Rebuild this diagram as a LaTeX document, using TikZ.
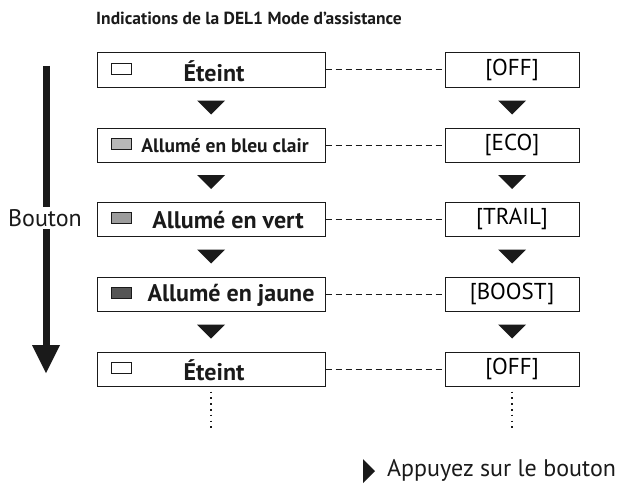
\documentclass[tikz,border=0pt]{standalone}
\usepackage{fontspec}
\setmainfont{PT Sans}
\usetikzlibrary{positioning}

\definecolor{encre}{HTML}{1A1A1A}
\definecolor{bleuclair}{HTML}{B8B8B8}
\definecolor{vert}{HTML}{9C9C9C}
\definecolor{jaune}{HTML}{555555}

\tikzset{
  etat/.style={draw=encre, line width=1pt, minimum width=228, minimum height=34, inner sep=0pt},
  mode/.style={draw=encre, line width=1pt, minimum width=134, minimum height=34, inner sep=0pt,
    font=\fontsize{23}{25}\selectfont},
  voyant/.style={draw=encre, line width=0.9pt, minimum width=20, minimum height=11, inner sep=0pt},
  libelle/.style={font=\bfseries\fontsize{24}{26}\selectfont, text=encre, inner sep=0pt},
  lien/.style={draw=encre, line width=1pt, dash pattern=on 6pt off 4pt},
  suite/.style={draw=encre, line width=1.6pt, dash pattern=on 1.6pt off 4.2pt},
  pointe/.style={fill=encre}
}

\begin{document}
\begin{tikzpicture}[x=1pt,y=-1pt]
\useasboundingbox (0,0) rectangle (621,487);

% titre
\node[font=\bfseries\fontsize{17.5}{19}\selectfont, text=encre] (titre) at (249,18) {Indications de la DEL1 Mode d'assistance};

% colonne DEL
\node[etat] (e1) at (211,70) {};
\node[etat] (e2) at (211,145) {};
\node[etat] (e3) at (211,219) {};
\node[etat] (e4) at (211,294) {};
\node[etat] (e5) at (211,369) {};

\node[voyant, fill=white] (v1) at (121,69) {};
\node[voyant, fill=bleuclair] (v2) at (121,144) {};
\node[voyant, fill=vert] (v3) at (121,218) {};
\node[voyant, fill=jaune] (v4) at (121,293) {};
\node[voyant, fill=white] (v5) at (121,368) {};

\node[libelle] (l1) at (214,71) {Éteint};
\node[libelle, font=\bfseries\fontsize{19.5}{21}\selectfont] (l2) at (225,146) {Allumé en bleu clair};
\node[libelle] (l3) at (228,220) {Allumé en vert};
\node[libelle] (l4) at (231,295) {Allumé en jaune};
\node[libelle] (l5) at (214,370) {Éteint};

% colonne mode
\node[mode] (m1) at (512,70) {[OFF]};
\node[mode] (m2) at (512,145) {[ECO]};
\node[mode] (m3) at (512,219) {[TRAIL]};
\node[mode] (m4) at (512,294) {[BOOST]};
\node[mode] (m5) at (512,369) {[OFF]};

\foreach \i in {1,...,5}
  \draw[lien] (e\i.east) -- (m\i.west);

% triangles entre les cases
\foreach \a/\b in {1/2,2/3,3/4,4/5}{
  \path (e\a.south) -- (e\b.north) coordinate[midway] (te\a);
  \path (m\a.south) -- (m\b.north) coordinate[midway] (tm\a);
  \fill[pointe] ([xshift=-14pt,yshift=7pt]te\a) -- ([xshift=14pt,yshift=7pt]te\a) -- ([yshift=-7pt]te\a) -- cycle;
  \fill[pointe] ([xshift=-14pt,yshift=7pt]tm\a) -- ([xshift=14pt,yshift=7pt]tm\a) -- ([yshift=-7pt]tm\a) -- cycle;
}

% suite
\coordinate (s1) at (211,432);
\coordinate (s2) at (512,432);
\draw[suite] ([yshift=-5pt]e5.south) -- (s1);
\draw[suite] ([yshift=-5pt]m5.south) -- (s2);

% fleche du bouton
\coordinate (b1) at (46,66);
\coordinate (b2) at (46,345);
\draw[encre, line width=7pt] (b1) -- (b2);
\fill[pointe] (32,345) -- (60,345) -- (46,373) -- cycle;
\node[fill=white, inner sep=2pt, font=\fontsize{24}{26}\selectfont, text=encre] (bouton) at (45,218) {Bouton};

% legende
\node[font=\fontsize{24}{26}\selectfont, text=encre, anchor=west, inner sep=0pt] (appui) at (387,470) {Appuyez sur le bouton};
\fill[pointe] (363,459) -- (363,483) -- (375,471) -- cycle;
\end{tikzpicture}
\end{document}
